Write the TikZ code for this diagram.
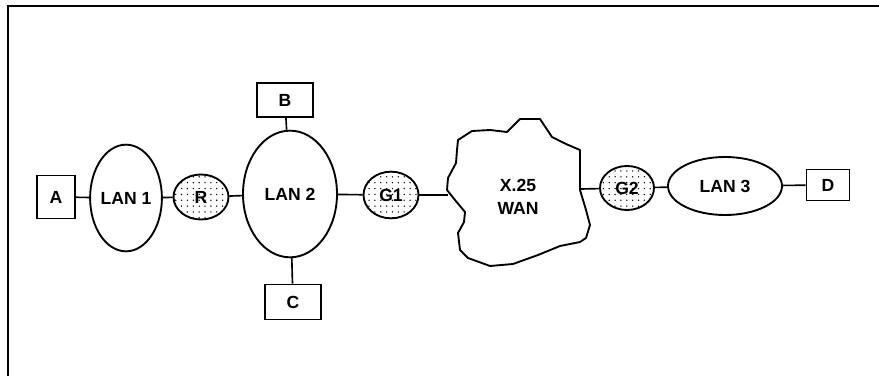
\documentclass[tikz,border=0pt]{standalone}
\usepackage{fontspec}
\setmainfont{Liberation Sans}
\usetikzlibrary{shapes.geometric,patterns}

\pgfdeclarepatternformonly{gatedots}{\pgfqpoint{-1pt}{-1pt}}{\pgfqpoint{1pt}{1pt}}{\pgfqpoint{5pt}{5pt}}{%
  \pgfpathcircle{\pgfqpoint{0pt}{0pt}}{0.65pt}\pgfusepath{fill}}

\tikzset{
  host/.style={draw, line width=1.5pt, rectangle, inner sep=0pt},
  lan/.style={draw, line width=1.6pt, ellipse, inner sep=0pt},
  gate/.style={draw, line width=1.6pt, ellipse, inner sep=0pt, pattern=gatedots,
    minimum width=1.65cm, minimum height=1.35cm},
  link/.style={line width=1.4pt}
}

\begin{document}
\begin{tikzpicture}[x=0.03cm, y=-0.03cm, font=\bfseries\fontsize{15}{17}\selectfont]

\useasboundingbox (0,0) rectangle (879,376);

% frame
\draw[line width=1.6pt] (879,6) -- (8,6) -- (8,376);

% end stations
\node[host, minimum width=1.14cm, minimum height=1.29cm] (boxA) at (56,197) {A};
\node[host, minimum width=1.68cm, minimum height=1.02cm] (boxB) at (285,100) {B};
\node[host, minimum width=1.68cm, minimum height=1.05cm] (boxC) at (293,302) {C};
\node[host, minimum width=1.29cm, minimum height=0.93cm] (boxD) at (828,185) {D};

% LANs
\node[lan, minimum width=2.1cm, minimum height=3.2cm] (lan1) at (126,198) {LAN 1};
\node[lan, minimum width=2.82cm, minimum height=3.8cm] (lan2) at (290,194) {LAN 2};
\node[lan, minimum width=3.42cm, minimum height=1.74cm] (lan3) at (725,186) {LAN 3};

% router and gateways
\node[gate] (rtr) at (201,197) {R};
\node[gate, minimum height=1.4cm] (gw1) at (391,195) {G1};
\node[gate, minimum width=1.62cm, minimum height=1.32cm] (gw2) at (627,188) {G2};

% X.25 cloud
\draw[line width=1.6pt, line join=round]
  (458,140) -- (472,131) -- (490,130) -- (507,132) -- (520,119) -- (540,119)
  -- (552,137) -- (566,144) -- (580,150) -- (580,190) -- (586,210) -- (590,225)
  -- (586,238) -- (580,242) -- (560,246) -- (538,255) -- (513,264) -- (490,266)
  -- (468,258) -- (460,250) -- (458,233) -- (464,222) -- (465,212) -- (455,200)
  -- (447,190) -- (448,178) -- (456,163) -- (457,150) -- cycle;
\node[align=center] (wan) at (518,197) {X.25\\[3pt]WAN};
\coordinate (wanW) at (448,195);
\coordinate (wanE) at (581,189);

% links
\draw[link] (boxA) -- (lan1);
\draw[link] (lan1) -- (rtr);
\draw[link] (rtr) -- (lan2);
\draw[link] (boxB) -- (lan2);
\draw[link] (lan2) -- (boxC);
\draw[link] (lan2) -- (gw1);
\draw[link] (gw1) -- (wanW);
\draw[link] (wanE) -- (gw2);
\draw[link] (gw2) -- (lan3);
\draw[link] (lan3) -- (boxD);

\end{tikzpicture}
\end{document}
